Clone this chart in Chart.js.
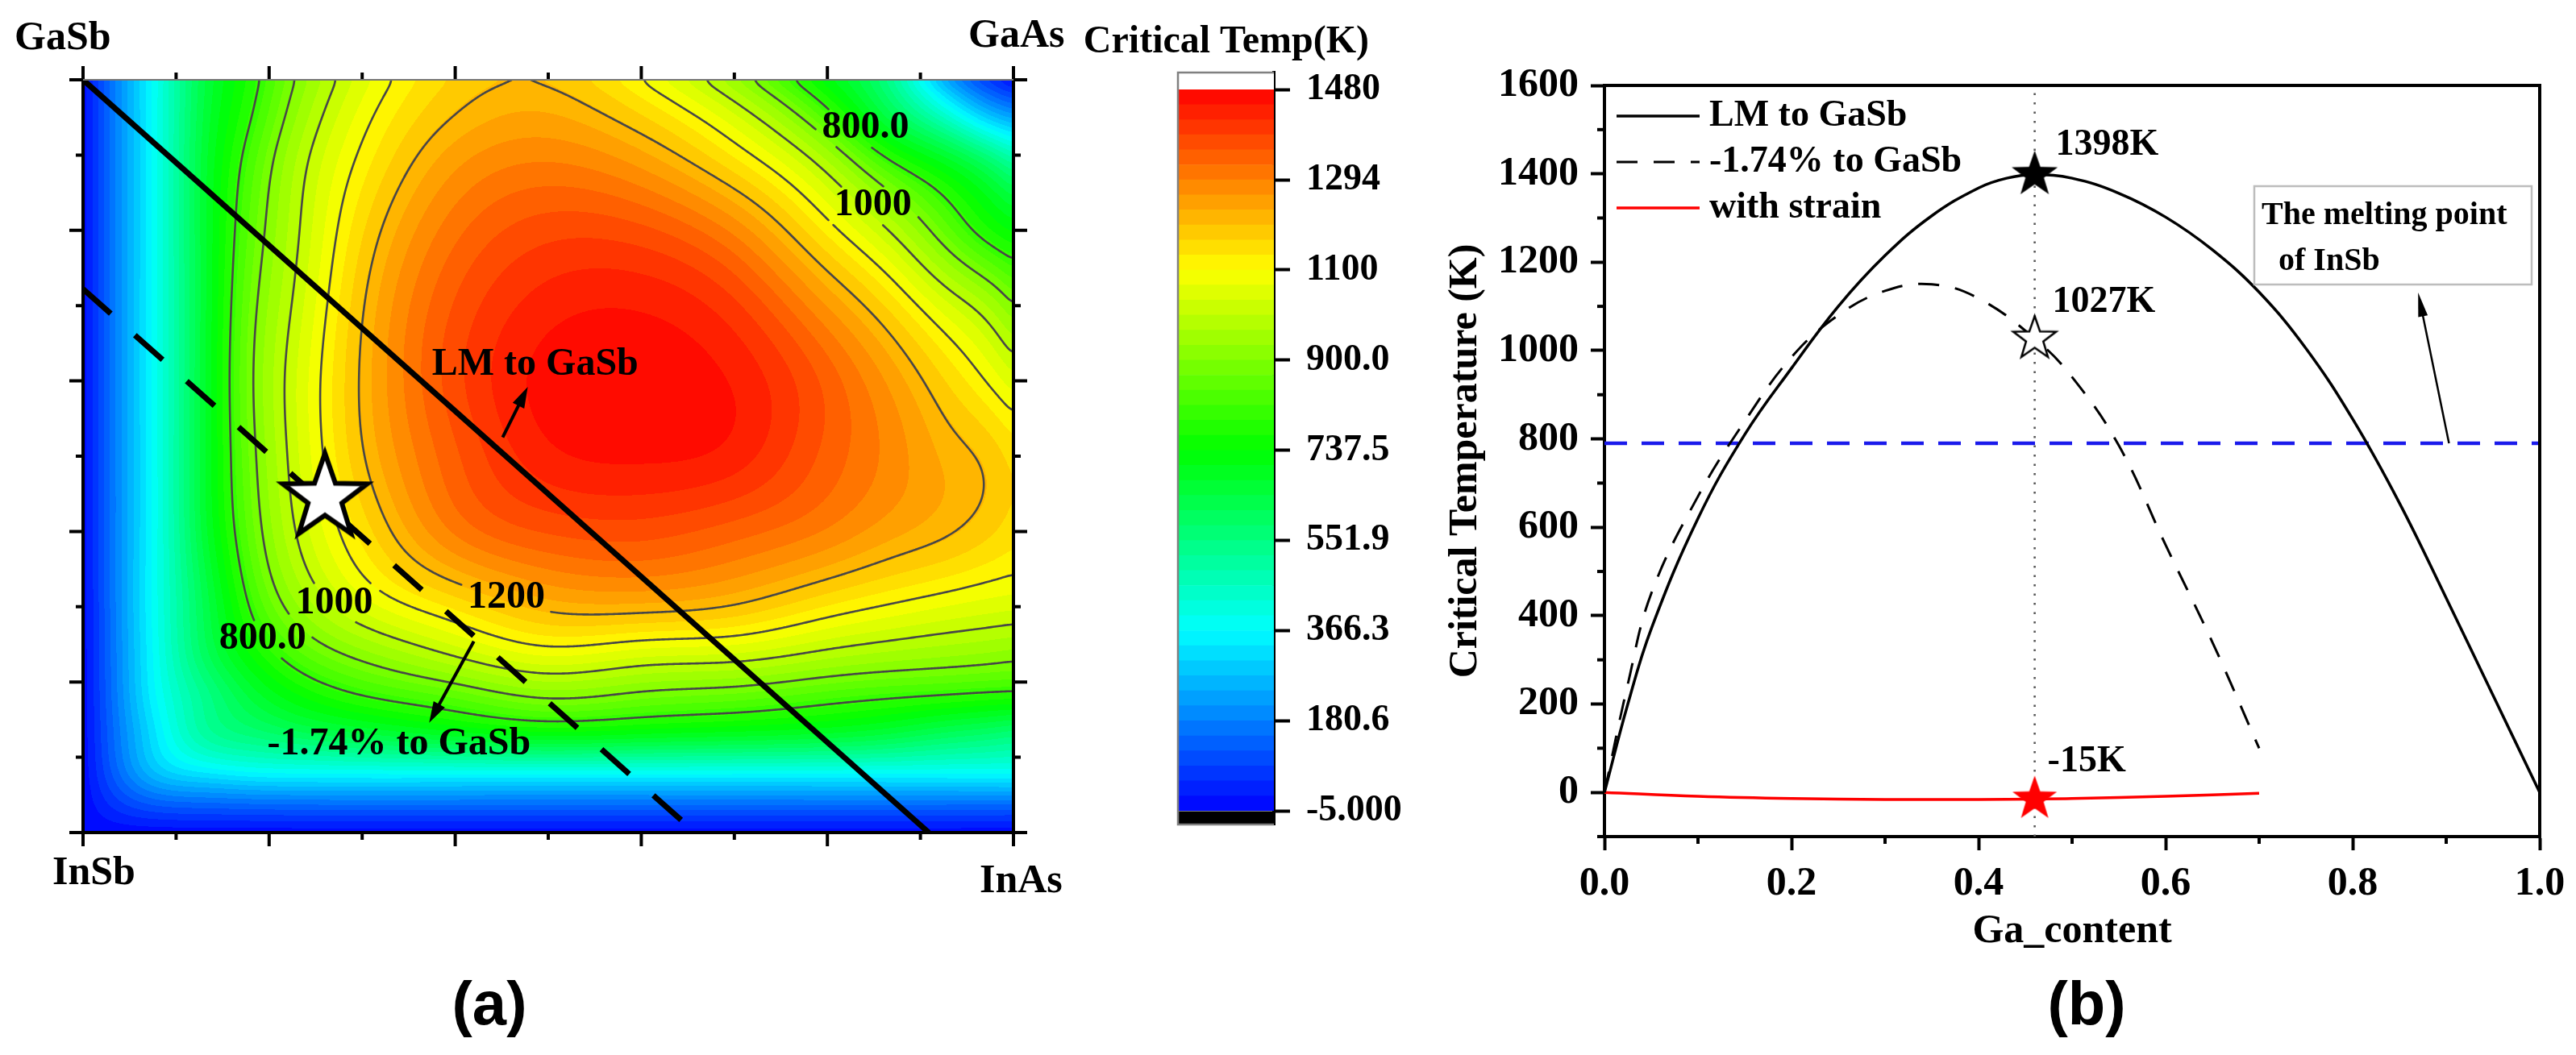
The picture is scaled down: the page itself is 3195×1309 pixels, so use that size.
<!DOCTYPE html>
<html><head><meta charset="utf-8">
<script src="https://cdn.jsdelivr.net/npm/chart.js@4.4.1/dist/chart.umd.min.js"></script>
<style>
html,body{margin:0;padding:0;background:#fff;}
body{width:3195px;height:1309px;position:relative;overflow:hidden;}
canvas{position:absolute;top:0;}
</style></head><body>
<canvas id="cA" width="1400" height="1309" style="left:0px"></canvas>
<canvas id="cC" width="500" height="1309" style="left:1300px"></canvas>
<canvas id="cB" width="1495" height="1309" style="left:1700px"></canvas>
<script>
const SERIF = "'Liberation Serif','Times New Roman',Times,serif";
const SANS = "'Liberation Sans',Arial,sans-serif";

/* ---------------- panel (b) data ---------------- */
const lmGa = [0,0.025,0.05,0.1,0.15,0.2,0.25,0.3,0.35,0.4,0.43,0.46,0.5,0.55,0.6,0.65,0.7,0.75,0.8,0.85,0.9,0.95,1.0];
const lmTc = [0,200,370,620,810,960,1100,1215,1305,1368,1390,1398,1390,1356,1302,1228,1132,1005,845,655,440,220,0];
const strainGa = [0,0.025,0.05,0.1,0.15,0.2,0.25,0.3,0.35,0.4,0.46,0.5,0.55,0.6,0.65,0.7];
const strainTc = [0,245,450,670,840,985,1080,1135,1150,1118,1027,940,785,560,340,100];
const withStrainGa = [0,0.1,0.2,0.3,0.4,0.46,0.5,0.6,0.7];
const withStrainTc = [0,-9,-14,-16,-16,-15,-14,-9,-2];
const meltingInSb = 790;
const markGa = 0.46;
const markTc = [1398, 1027, -15];
const markText = ['1398K', '1027K', '-15K'];
const xTicksB = [0,0.2,0.4,0.6,0.8,1.0];
const xMinorB = [0.1,0.3,0.5,0.7,0.9];
const yTicksB = [0,200,400,600,800,1000,1200,1400,1600];
const yMinorB = [-100,100,300,500,700,900,1100,1300,1500];
const legendNames = ['LM to GaSb','-1.74% to GaSb','with strain'];

/* ---------------- colour scale ---------------- */
const cbValues = [-5,180.6,366.3,551.9,737.5,900,1100,1294,1480];
const cbLabels = ['-5.000','180.6','366.3','551.9','737.5','900.0','1100','1294','1480'];
const bandsPerStep = 6;

/* ---------------- panel (a) data: Tc(K) on composition grid ---------------- */
const mapAs = [0,0.04,0.08,0.13,0.18,0.23,0.3,0.4,0.5,0.6,0.7,0.8,0.87,0.93,0.97,1.0];
const mapGa = [0,0.04,0.08,0.13,0.18,0.23,0.3,0.4,0.5,0.6,0.7,0.8,0.9,0.95,1.0];
const tc_ga000 = [0,0,0,0,0,0,0,0,0,0,0,0,0,0,0,0];
const tc_ga004 = [0,85,135,150,158,162,164,164,164,164,164,164,164,163,163,163];
const tc_ga008 = [0,155,280,338,366,375,379,381,382,381,380,379,378,377,377,377];
const tc_ga013 = [0,180,340,500,560,600,640,690,720,705,690,670,640,600,580,560];
const tc_ga018 = [0,195,372,530,650,730,795,850,905,880,860,825,805,790,780,774];
const tc_ga023 = [0,200,388,590,730,825,905,990,1055,1025,1010,965,940,925,915,905];
const tc_ga030 = [0,205,396,620,805,930,1045,1140,1212,1220,1195,1130,1092,1065,1050,1041];
const tc_ga040 = [0,205,396,660,860,1004,1145,1300,1360,1370,1340,1290,1240,1205,1175,1146];
const tc_ga050 = [0,205,396,668,880,1028,1195,1350,1440,1455,1435,1345,1280,1220,1190,1150];
const tc_ga060 = [0,205,396,668,890,1035,1208,1375,1462,1472,1445,1345,1250,1160,1100,1045];
const tc_ga070 = [0,205,396,665,878,1015,1195,1360,1435,1445,1395,1260,1150,1040,970,900];
const tc_ga080 = [0,205,396,665,855,993,1160,1315,1375,1365,1285,1122,991,855,775,730];
const tc_ga090 = [0,205,396,660,825,967,1110,1245,1285,1238,1127,950,775,660,560,470];
const tc_ga095 = [0,205,396,650,797,936,1082,1203,1235,1170,1043,829,625,440,300,230];
const tc_ga100 = [0,205,396,640,775,905,1050,1170,1192,1098,937,715,520,220,80,5];
const tcGrid = [tc_ga000,tc_ga004,tc_ga008,tc_ga013,tc_ga018,tc_ga023,tc_ga030,tc_ga040,tc_ga050,tc_ga060,tc_ga070,tc_ga080,tc_ga090,tc_ga095,tc_ga100];
const contourLevels = [800,900,1000,1100,1200];
const lmPathAs = [0, 0.909], lmPathGa = [1, 0];
const strainPathAs = [0, 0.658], strainPathGa = [0.722, 0];
const starAs = [0.26], starGa = [0.445];
const ticksA = [0,0.1,0.2,0.3,0.4,0.5,0.6,0.7,0.8,0.9,1.0];

/* annotation placement (data coordinates of panel a) */
const contourLabels = [
  {t:'800.0', as:0.841, ga:0.936}, {t:'1000', as:0.849, ga:0.833},
  {t:'1000', as:0.270, ga:0.305}, {t:'1200', as:0.455, ga:0.312}, {t:'800.0', as:0.193, ga:0.257}
];

/* ---------------- helpers ---------------- */
const rainbow = [[0,0,255],[0,128,255],[0,255,255],[0,255,128],[0,255,0],[128,255,0],[255,255,0],[255,128,0],[255,0,0]];
const NB = bandsPerStep*(cbValues.length-1);
function bandColor(b){
  const t=(b+0.5)/NB*8, k=Math.min(7,Math.floor(t)), f=t-k, c0=rainbow[k], c1=rainbow[k+1];
  return [0,1,2].map(i=>Math.round(c0[i]+(c1[i]-c0[i])*f));
}
const LUT = []; for(let b=0;b<NB;b++) LUT.push(bandColor(b));
function rgb(c){return 'rgb('+c[0]+','+c[1]+','+c[2]+')';}
function colorFor(v){
  if (v < cbValues[0]) return [0,0,0];
  if (v > cbValues[cbValues.length-1]) return [255,255,255];
  let k=0; while(k<cbValues.length-2 && v>cbValues[k+1]) k++;
  const p=(k+(v-cbValues[k])/(cbValues[k+1]-cbValues[k]))/8;
  return LUT[Math.max(0,Math.min(NB-1,Math.floor(p*NB)))];
}
function natSpline(xs, ys){
  const n=xs.length, h=new Float64Array(n-1), M=new Float64Array(n);
  for(let i=0;i<n-1;i++) h[i]=xs[i+1]-xs[i];
  const a=new Float64Array(n), b=new Float64Array(n), c=new Float64Array(n), r=new Float64Array(n);
  b[0]=1; b[n-1]=1;
  for(let i=1;i<n-1;i++){ a[i]=h[i-1]; b[i]=2*(h[i-1]+h[i]); c[i]=h[i]; r[i]=6*((ys[i+1]-ys[i])/h[i]-(ys[i]-ys[i-1])/h[i-1]); }
  for(let i=1;i<n;i++){ const w=a[i]/b[i-1]; b[i]-=w*c[i-1]; r[i]-=w*r[i-1]; }
  M[n-1]=r[n-1]/b[n-1];
  for(let i=n-2;i>=0;i--) M[i]=(r[i]-c[i]*M[i+1])/b[i];
  const Y=ys.slice();
  return function(x){
    if(x<=xs[0]) return Y[0];
    if(x>=xs[n-1]) return Y[n-1];
    let i=0; while(i<n-2 && x>xs[i+1]) i++;
    const hi=h[i], A=xs[i+1]-x, B=x-xs[i];
    return M[i]*A*A*A/(6*hi)+M[i+1]*B*B*B/(6*hi)+(Y[i]/hi-M[i]*hi/6)*A+(Y[i+1]/hi-M[i+1]*hi/6)*B;
  };
}
function boxBlur(F, W, H, r){
  const tmp=new Float32Array(W*H), n=2*r+1;
  for(let j=0;j<H;j++){
    const row=j*W; let acc=0;
    for(let k=-r;k<=r;k++) acc+=F[row+Math.min(W-1,Math.max(0,k))];
    for(let i=0;i<W;i++){ tmp[row+i]=acc/n; acc+=F[row+Math.min(W-1,i+r+1)]-F[row+Math.max(0,i-r)]; }
  }
  for(let i=0;i<W;i++){
    let acc=0;
    for(let k=-r;k<=r;k++) acc+=tmp[Math.min(H-1,Math.max(0,k))*W+i];
    for(let j=0;j<H;j++){ F[j*W+i]=acc/n; acc+=tmp[Math.min(H-1,j+r+1)*W+i]-tmp[Math.max(0,j-r)*W+i]; }
  }
}
function makeStar(R, fill, stroke, lw){
  const s=Math.ceil(2*R+2*lw+6), c=document.createElement('canvas'); c.width=c.height=s;
  const g=c.getContext('2d'), cx=s/2, cy=s/2, r=R*0.4;
  g.beginPath();
  for(let k=0;k<10;k++){const a=-Math.PI/2+k*Math.PI/5, rr=k%2?r:R; g.lineTo(cx+rr*Math.cos(a), cy+rr*Math.sin(a));}
  g.closePath(); g.fillStyle=fill; g.fill();
  if(lw>0){g.lineWidth=lw; g.strokeStyle=stroke; g.lineJoin='miter'; g.stroke();}
  return c;
}
function arrow(ctx,x0,y0,x1,y1,lw,hl,hw){
  const a=Math.atan2(y1-y0,x1-x0), c=Math.cos(a), s=Math.sin(a);
  ctx.beginPath(); ctx.moveTo(x0,y0); ctx.lineTo(x1-hl*0.7*c, y1-hl*0.7*s); ctx.lineWidth=lw; ctx.stroke();
  ctx.beginPath(); ctx.moveTo(x1,y1);
  ctx.lineTo(x1-hl*c+hw/2*s, y1-hl*s-hw/2*c);
  ctx.lineTo(x1-hl*c-hw/2*s, y1-hl*s+hw/2*c);
  ctx.closePath(); ctx.fill();
}
const pts = (xs, ys) => xs.map((x,i)=>({x, y:ys[i]}));

/* ---------------- panel (a) ---------------- */
function buildField(chart){
  const ca=chart.chartArea, xs=chart.scales.x, ys=chart.scales.y;
  const left=Math.round(ca.left), top=Math.round(ca.top);
  const W=Math.round(ca.right)-left, H=Math.round(ca.bottom)-top;
  const nx=new Float64Array(W), ny=new Float64Array(H);
  for(let i=0;i<W;i++) nx[i]=xs.getValueForPixel(left+i+0.5);
  for(let j=0;j<H;j++) ny[j]=ys.getValueForPixel(top+j+0.5);
  const rowV=tcGrid.map(r=>{const f=natSpline(mapAs,r), a=new Float64Array(W); for(let i=0;i<W;i++) a[i]=f(nx[i]); return a;});
  const F=new Float32Array(W*H), col=new Array(mapGa.length);
  for(let i=0;i<W;i++){
    for(let k=0;k<mapGa.length;k++) col[k]=rowV[k][i];
    const f=natSpline(mapGa,col);
    for(let j=0;j<H;j++) F[j*W+i]=Math.min(1479,Math.max(-4,f(ny[j])));
  }
  for(let pass=0;pass<3;pass++) boxBlur(F,W,H,6);
  const off=document.createElement('canvas'); off.width=W; off.height=H;
  const g=off.getContext('2d'), img=g.createImageData(W,H), d=img.data;
  for(let p=0;p<W*H;p++){const c=colorFor(F[p]); d[p*4]=c[0]; d[p*4+1]=c[1]; d[p*4+2]=c[2]; d[p*4+3]=255;}
  g.putImageData(img,0,0);
  g.font='bold 48px '+SERIF;
  const boxes=contourLabels.map(l=>{const px=xs.getPixelForValue(l.as), py=ys.getPixelForValue(l.ga), w=g.measureText(l.t).width; return [px-w/2-8,py-24,px+w/2+8,py+24];});
  const inBox=(x,y)=>boxes.some(b=>x>b[0]&&x<b[2]&&y>b[1]&&y<b[3]);
  const step=2, GW=Math.floor((W-1)/step)+1, GH=Math.floor((H-1)/step)+1;
  const path=new Path2D();
  const seg=(p,q)=>{ if(inBox((p[0]+q[0])/2,(p[1]+q[1])/2)) return; path.moveTo(p[0],p[1]); path.lineTo(q[0],q[1]); };
  for(const L of contourLevels){
    for(let j=0;j<GH-1;j++) for(let i=0;i<GW-1;i++){
      const a=F[(j*step)*W+i*step], b=F[(j*step)*W+(i+1)*step], c=F[((j+1)*step)*W+(i+1)*step], e=F[((j+1)*step)*W+i*step];
      let idx=0; if(a>L)idx|=8; if(b>L)idx|=4; if(c>L)idx|=2; if(e>L)idx|=1;
      if(idx===0||idx===15) continue;
      const X0=left+i*step+0.5, Y0=top+j*step+0.5;
      const T=()=>[X0+step*(L-a)/(b-a),Y0], R=()=>[X0+step,Y0+step*(L-b)/(c-b)];
      const B=()=>[X0+step*(L-e)/(c-e),Y0+step], Lf=()=>[X0,Y0+step*(L-a)/(e-a)];
      switch(idx){
        case 1: case 14: seg(Lf(),B()); break;
        case 2: case 13: seg(B(),R()); break;
        case 3: case 12: seg(Lf(),R()); break;
        case 4: case 11: seg(T(),R()); break;
        case 6: case 9: seg(T(),B()); break;
        case 7: case 8: seg(Lf(),T()); break;
        case 5: seg(T(),R()); seg(Lf(),B()); break;
        case 10: seg(Lf(),T()); seg(B(),R()); break;
      }
    }
  }
  return {canvas:off,left,top,path};
}
const heatPlugin = {
  id:'heat',
  beforeDatasetsDraw(chart){
    const {ctx, chartArea:ca}=chart, xs=chart.scales.x, ys=chart.scales.y;
    if(!chart.$heat) chart.$heat=buildField(chart);
    const h=chart.$heat;
    ctx.save();
    ctx.drawImage(h.canvas,h.left,h.top);
    ctx.beginPath(); ctx.rect(ca.left,ca.top,ca.right-ca.left,ca.bottom-ca.top); ctx.clip();
    ctx.strokeStyle='#474747'; ctx.lineWidth=2.6; ctx.lineCap='round'; ctx.lineJoin='round';
    ctx.stroke(h.path);
    ctx.fillStyle='#000'; ctx.font='bold 48px '+SERIF; ctx.textAlign='center'; ctx.textBaseline='middle';
    contourLabels.forEach(l=>ctx.fillText(l.t, xs.getPixelForValue(l.as), ys.getPixelForValue(l.ga)));
    ctx.restore();
  },
  afterDatasetsDraw(chart){
    const {ctx}=chart, xs=chart.scales.x, ys=chart.scales.y, X=v=>xs.getPixelForValue(v), Y=v=>ys.getPixelForValue(v);
    ctx.save();
    ctx.fillStyle='#000'; ctx.strokeStyle='#000';
    ctx.font='bold 48px '+SERIF; ctx.textAlign='left'; ctx.textBaseline='middle';
    ctx.fillText('LM to GaSb', X(0.375), Y(0.621));
    ctx.fillText('-1.74% to GaSb', X(0.198), Y(0.117));
    arrow(ctx, X(0.451),Y(0.525), X(0.478),Y(0.592), 4, 26, 16);
    arrow(ctx, X(0.420),Y(0.254), X(0.372),Y(0.146), 4, 26, 16);
    ctx.restore();
  },
  afterDraw(chart){
    const {ctx, chartArea:ca}=chart, xs=chart.scales.x, ys=chart.scales.y;
    ctx.save();
    ctx.strokeStyle='#000'; ctx.lineWidth=4; ctx.lineCap='butt';
    ticksA.forEach((v,i)=>{
      const len = i%2===0 ? 17 : 9, px=xs.getPixelForValue(v), py=ys.getPixelForValue(v);
      ctx.beginPath();
      ctx.moveTo(px,ca.bottom); ctx.lineTo(px,ca.bottom+len);
      ctx.moveTo(px,ca.top); ctx.lineTo(px,ca.top-len);
      ctx.moveTo(ca.left,py); ctx.lineTo(ca.left-len,py);
      ctx.moveTo(ca.right,py); ctx.lineTo(ca.right+len,py);
      ctx.stroke();
    });
    ctx.beginPath(); ctx.moveTo(ca.left,ca.top); ctx.lineTo(ca.left,ca.bottom); ctx.lineTo(ca.right,ca.bottom); ctx.lineTo(ca.right,ca.top); ctx.stroke();
    ctx.strokeStyle='#777'; ctx.lineWidth=2; ctx.beginPath(); ctx.moveTo(ca.left,ca.top); ctx.lineTo(ca.right,ca.top); ctx.stroke();
    ctx.fillStyle='#000'; ctx.font='bold 50px '+SERIF; ctx.textAlign='left'; ctx.textBaseline='alphabetic';
    ctx.fillText('GaSb', ca.left-85, ca.top-38);
    ctx.fillText('GaAs', ca.right-56, ca.top-41);
    ctx.fillText('InSb', ca.left-38, ca.bottom+64);
    ctx.fillText('InAs', ca.right-42, ca.bottom+74);
    ctx.font='bold 76px '+SANS; ctx.textAlign='center'; ctx.textBaseline='middle';
    ctx.fillText('(a)', 607, 1250);
    ctx.restore();
  }
};
const starImgA = makeStar(55,'#fff','#000',6);
new Chart(document.getElementById('cA'), {
  type:'scatter',
  data:{datasets:[
    {data:pts(starAs,starGa), pointStyle:starImgA, pointRadius:20, order:0},
    {data:pts(lmPathAs,lmPathGa), showLine:true, borderColor:'#000', borderWidth:7, pointRadius:0, order:1},
    {data:pts(strainPathAs,strainPathGa), showLine:true, borderColor:'#000', borderWidth:7, borderDash:[46,40], pointRadius:0, order:2}
  ]},
  options:{
    responsive:false, animation:false, devicePixelRatio:1, events:[],
    layout:{padding:{left:103, top:99, right:143, bottom:276}},
    scales:{x:{type:'linear',min:0,max:1,display:false}, y:{type:'linear',min:0,max:1,display:false}},
    plugins:{legend:{display:false}, tooltip:{enabled:false}}
  },
  plugins:[heatPlugin]
});

/* ---------------- colour bar ---------------- */
const cbDatasets = [{data:[-0.15], backgroundColor:'#000'}];
for(let b=0;b<NB;b++) cbDatasets.push({data:[1/bandsPerStep], backgroundColor:rgb(LUT[b])});
cbDatasets.push({data:[0.19], backgroundColor:'#fff'});
cbDatasets.forEach(d=>{d.borderWidth=0; d.barPercentage=1; d.categoryPercentage=1;});
new Chart(document.getElementById('cC'), {
  type:'bar',
  data:{labels:[''], datasets:cbDatasets},
  options:{
    responsive:false, animation:false, devicePixelRatio:1, events:[],
    layout:{padding:{left:161, top:90, right:0, bottom:286}},
    scales:{
      x:{stacked:true, display:false},
      y:{stacked:true, position:'right', min:-0.15, max:8.19,
         afterBuildTicks:s=>{s.ticks=cbLabels.map((_,i)=>({value:i}));},
         afterFit:s=>{s.width=220;},
         ticks:{callback:v=>cbLabels[Math.round(v)], font:{family:SERIF,size:46,weight:'bold'}, color:'#000', padding:20},
         grid:{drawOnChartArea:false, tickLength:20, tickWidth:4, tickColor:'#000'},
         border:{color:'#000', width:4}}
    },
    plugins:{legend:{display:false}, tooltip:{enabled:false}}
  },
  plugins:[{id:'cbFrame', afterDraw(chart){
    const {ctx, chartArea:ca}=chart;
    ctx.save(); ctx.strokeStyle='#808080'; ctx.lineWidth=2.5;
    ctx.beginPath(); ctx.moveTo(ca.right,ca.top); ctx.lineTo(ca.left,ca.top); ctx.lineTo(ca.left,ca.bottom); ctx.lineTo(ca.right,ca.bottom); ctx.stroke();
    ctx.fillStyle='#000'; ctx.font='bold 48px '+SERIF; ctx.textAlign='right'; ctx.textBaseline='alphabetic';
    ctx.fillText('Critical Temp(K)', ca.right+118, ca.top-25);
    ctx.restore();
  }}]
});

/* ---------------- panel (b) ---------------- */
const starBlack = makeStar(30,'#000','#000',0);
const starWhite = makeStar(28,'#fff','#000',2.5);
const starRed = makeStar(29,'#ff0000','#ff0000',0);
const fontB = {family:SERIF, size:50, weight:'bold'};
new Chart(document.getElementById('cB'), {
  type:'scatter',
  data:{datasets:[
    {label:legendNames[0], data:pts(lmGa,lmTc), showLine:true, borderColor:'#000', backgroundColor:'#000', borderWidth:3.5, pointRadius:0, tension:0.4, order:1},
    {label:legendNames[1], data:pts(strainGa,strainTc), showLine:true, borderColor:'#000', backgroundColor:'#000', borderWidth:3, borderDash:[26,20], pointRadius:0, tension:0.4, order:2},
    {label:legendNames[2], data:pts(withStrainGa,withStrainTc), showLine:true, borderColor:'#ff0000', backgroundColor:'#ff0000', borderWidth:3.5, pointRadius:0, tension:0.4, order:3},
    {label:'melting', data:[{x:0,y:meltingInSb},{x:1,y:meltingInSb}], showLine:true, borderColor:'#1a1aeb', borderWidth:4.5, borderDash:[28,18], pointRadius:0, order:4},
    {label:'mark', data:[{x:markGa,y:-100},{x:markGa,y:1600}], showLine:true, borderColor:'#555', borderWidth:2.5, borderDash:[2.5,9], pointRadius:0, order:5},
    {label:'s1', data:[{x:markGa,y:markTc[0]}], pointStyle:starBlack, pointRadius:20, order:0},
    {label:'s2', data:[{x:markGa,y:markTc[1]}], pointStyle:starWhite, pointRadius:20, order:0},
    {label:'s3', data:[{x:markGa,y:markTc[2]}], pointStyle:starRed, pointRadius:20, order:0}
  ]},
  options:{
    responsive:false, animation:false, devicePixelRatio:1, events:[],
    layout:{padding:{left:0, top:106, right:45, bottom:71}},
    scales:{
      x:{type:'linear', min:0, max:1,
         afterBuildTicks:s=>{s.ticks=xTicksB.map(v=>({value:v}));},
         afterFit:s=>{s.height=200;},
         ticks:{callback:v=>v.toFixed(1), font:fontB, color:'#000', padding:12, maxRotation:0},
         grid:{drawOnChartArea:false, tickLength:17, tickWidth:4, tickColor:'#000'},
         border:{color:'#000', width:4},
         title:{display:true, text:'Ga_content', font:fontB, color:'#000', padding:{top:0,bottom:52}}},
      y:{type:'linear', min:-100, max:1600,
         afterBuildTicks:s=>{s.ticks=yTicksB.map(v=>({value:v}));},
         afterFit:s=>{s.width=290;},
         ticks:{callback:v=>String(v), font:fontB, color:'#000', padding:15},
         grid:{drawOnChartArea:false, tickLength:17, tickWidth:4, tickColor:'#000'},
         border:{color:'#000', width:4},
         title:{display:true, text:'Critical Temperature (K)', font:fontB, color:'#000', padding:{top:88,bottom:0}}}
    },
    plugins:{tooltip:{enabled:false}, legend:{display:false}}
  },
  plugins:[{id:'panelB',
    afterDatasetsDraw(chart){
      const {ctx, chartArea:ca}=chart, xs=chart.scales.x, ys=chart.scales.y;
      ctx.save();
      ctx.fillStyle='#000'; ctx.font='bold 46px '+SERIF; ctx.textAlign='left'; ctx.textBaseline='alphabetic';
      const off=[[26,-25],[22,-33],[16,-34]];
      markTc.forEach((t,k)=>ctx.fillText(markText[k], xs.getPixelForValue(markGa)+off[k][0], ys.getPixelForValue(t)+off[k][1]));
      const bl=ca.right-354, bt=ca.top+125;
      ctx.strokeStyle='#bdbdbd'; ctx.lineWidth=2.5; ctx.strokeRect(bl,bt,344,122);
      ctx.font='bold 40px '+SERIF;
      ctx.fillText('The melting point', bl+9, bt+47);
      ctx.fillText('of InSb', bl+30, bt+104);
      ctx.strokeStyle='#000'; ctx.fillStyle='#000';
      arrow(ctx, xs.getPixelForValue(0.903), ys.getPixelForValue(meltingInSb), xs.getPixelForValue(0.870), bt+132, 2.5, 30, 12);
      ctx.font='bold 46px '+SERIF; ctx.textBaseline='middle';
      for(let k=0;k<3;k++){
        const ds=chart.data.datasets[k], yy=ca.top+38+k*57, x0=ca.left+15;
        ctx.strokeStyle=ds.borderColor; ctx.lineWidth=ds.borderWidth; ctx.setLineDash(ds.borderDash||[]);
        ctx.beginPath(); ctx.moveTo(x0,yy); ctx.lineTo(x0+103,yy); ctx.stroke();
        ctx.setLineDash([]); ctx.fillStyle='#000';
        ctx.fillText(ds.label, x0+115, yy);
      }
      ctx.restore();
    },
    afterDraw(chart){
      const {ctx, chartArea:ca}=chart, xs=chart.scales.x, ys=chart.scales.y;
      ctx.save(); ctx.strokeStyle='#000'; ctx.lineWidth=4;
      ctx.beginPath(); ctx.moveTo(ca.left-2,ca.top); ctx.lineTo(ca.right,ca.top); ctx.lineTo(ca.right,ca.bottom+2); ctx.stroke();
      xMinorB.forEach(v=>{const p=xs.getPixelForValue(v); ctx.beginPath(); ctx.moveTo(p,ca.bottom); ctx.lineTo(p,ca.bottom+9); ctx.stroke();});
      yMinorB.forEach(v=>{const p=ys.getPixelForValue(v); ctx.beginPath(); ctx.moveTo(ca.left,p); ctx.lineTo(ca.left-9,p); ctx.stroke();});
      ctx.fillStyle='#000'; ctx.font='bold 76px '+SANS; ctx.textAlign='center'; ctx.textBaseline='middle';
      ctx.fillText('(b)', 888, 1250);
      ctx.restore();
    }
  }]
});
</script></body></html>
